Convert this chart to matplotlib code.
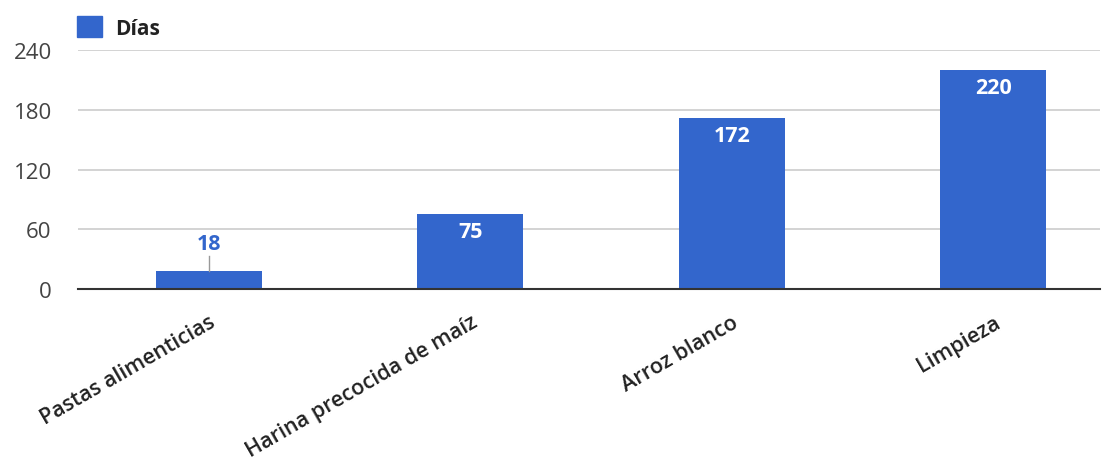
import matplotlib.pyplot as plt
from matplotlib.patches import Patch

plt.rcParams["font.family"] = ["Open Sans", "DejaVu Sans"]

categorias = ["Pastas alimenticias", "Harina precocida de maíz", "Arroz blanco", "Limpieza"]
dias = [18, 75, 172, 220]
yticks = [0, 60, 120, 180, 240]
color = "#3366CC"

fig = plt.figure(figsize=(11.16, 4.64), dpi=100)
ax = fig.add_axes([0.07, 0.375, 0.916, 0.515])

x = range(len(categorias))
bars = ax.bar(x, dias, width=0.406, color=color, zorder=3)

for i, v in enumerate(dias):
    if v < 40:
        # small value: label above with a leader line
        ax.plot([i, i], [v, v + 15], color="#999999", lw=1, zorder=4)
        ax.text(i, v + 17, str(v), ha="center", va="bottom", color=color,
                fontsize=15.5, fontweight="bold")
    else:
        ax.text(i, v - 7, str(v), ha="center", va="top", color="white",
                fontsize=15.5, fontweight="bold", zorder=5)

ax.set_xlim(-0.5, 3.41)
ax.set_ylim(0, 240)
ax.set_yticks(yticks)
ax.set_yticklabels([str(t) for t in yticks], fontsize=16, color="#444444")
ax.set_xticks(list(x))
ax.set_xticklabels(categorias, rotation=30, ha="right", rotation_mode="anchor",
                   fontsize=15.5, color="#222222", fontweight="semibold")
ax.tick_params(length=0)
ax.tick_params(axis="y", pad=19)
ax.tick_params(axis="x", pad=16)
ax.grid(axis="y", color="#cccccc", lw=1.2, zorder=0)
for s in ["top", "right", "left"]:
    ax.spines[s].set_visible(False)
ax.spines["bottom"].set_color("#333333")
ax.spines["bottom"].set_linewidth(1.5)
ax.spines["bottom"].set_zorder(4)

ax.legend(handles=[Patch(color=color, label="Días")], loc="lower left",
          bbox_to_anchor=(-0.012, 1.0), frameon=False, handlelength=1.2,
          handleheight=1.2, handletextpad=0.6, borderaxespad=0.15,
          prop={"size": 15, "weight": "bold"}, labelcolor="#222222")

plt.savefig("out.png", dpi=100)
